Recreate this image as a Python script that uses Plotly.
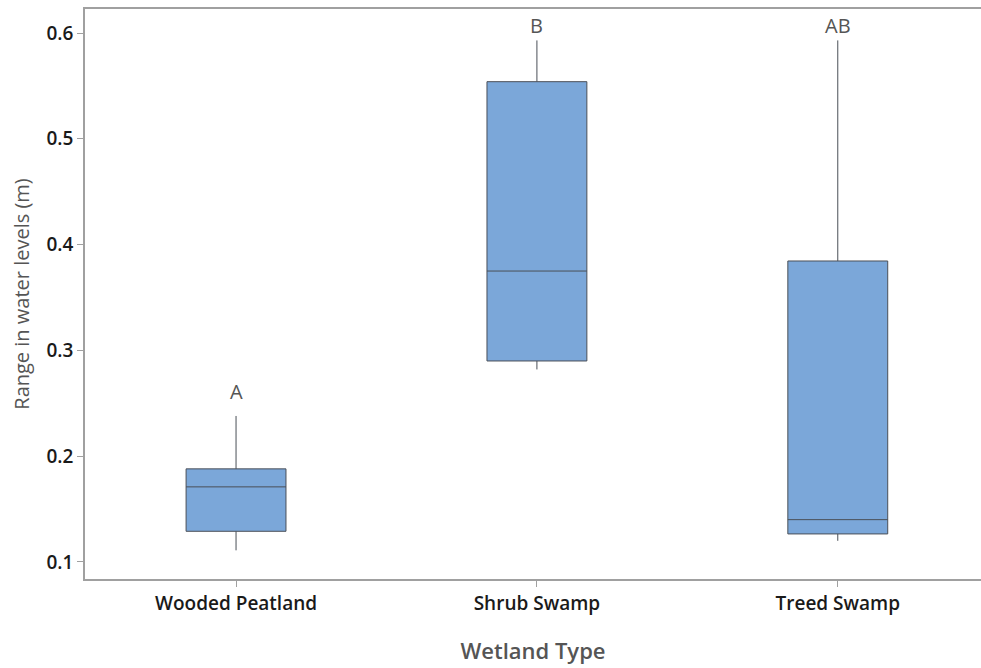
import plotly.graph_objects as go

categories = ["Wooded Peatland", "Shrub Swamp", "Treed Swamp"]
lower_whisker = [0.111, 0.282, 0.120]
q1 = [0.129, 0.290, 0.1265]
median = [0.171, 0.375, 0.140]
q3 = [0.188, 0.554, 0.3845]
upper_whisker = [0.238, 0.593, 0.593]
letters = ["A", "B", "AB"]
letter_y = [0.261, 0.607, 0.607]

fig = go.Figure()
fig.add_trace(go.Box(
    x=categories,
    q1=q1, median=median, q3=q3,
    lowerfence=lower_whisker, upperfence=upper_whisker,
    fillcolor="#7BA7D9",
    line=dict(color="#4a4f57", width=1),
    whiskerwidth=0,
    width=0.332,
    boxpoints=False,
    showlegend=False,
    hoverinfo="skip",
))

for c, t, y in zip(categories, letters, letter_y):
    fig.add_annotation(x=c, y=y, text=t, showarrow=False,
                       font=dict(family="Open Sans", size=20, color="#555555"),
                       xanchor="center", yanchor="middle")

fig.update_layout(
    width=981, height=668,
    margin=dict(l=85, r=0, t=9, b=89),
    paper_bgcolor="white", plot_bgcolor="white",
    font=dict(family="Open Sans", color="#222222"),
)
fig.update_xaxes(
    type="category", range=[-0.502, 2.476],
    showline=True, linecolor="#a0a0a0", linewidth=1.5, mirror=True,
    ticks="outside", ticklen=6, tickcolor="#a0a0a0",
    tickfont=dict(family="Open Sans", size=19, color="#1a1a1a", weight=600),
    showgrid=False, zeroline=False,
    title=dict(text="Wetland Type", font=dict(family="Open Sans", size=22, color="#555555", weight=600), standoff=29),
)
fig.update_yaxes(
    range=[0.0839, 0.6227],
    tickvals=[0.1, 0.2, 0.3, 0.4, 0.5, 0.6],
    ticktext=["0.1", "0.2", "0.3", "0.4", "0.5", "0.6"],
    showline=True, linecolor="#a0a0a0", linewidth=1.5,
    ticks="outside", ticklen=6, tickcolor="#a0a0a0",
    tickfont=dict(family="Open Sans", size=19, color="#1a1a1a", weight=600),
    showgrid=False, zeroline=False,
    title=dict(text="Range in water levels (m)", font=dict(family="Open Sans", size=20, color="#555555"), standoff=12),
)

fig.write_html("out.html", config={"displayModeBar": False},
               post_script="document.body.style.margin='0';document.body.style.overflow='hidden';")
